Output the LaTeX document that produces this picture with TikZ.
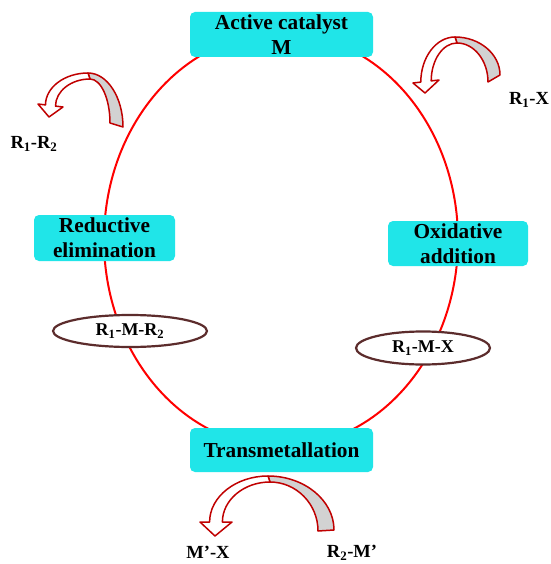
\documentclass[tikz,border=0pt]{standalone}
\usepackage{fontspec}
\setmainfont{Liberation Serif}
\usetikzlibrary{calc,shapes.geometric}
\definecolor{boxcyan}{RGB}{32,229,232}
\definecolor{cyclered}{RGB}{255,0,0}
\definecolor{arrred}{RGB}{192,0,0}
\definecolor{bandgray}{RGB}{210,210,210}
\definecolor{ellbrown}{RGB}{92,44,44}
\tikzset{
  stepbox/.style={fill=boxcyan, draw=none, rounded corners=5pt, align=center,
    font=\fontsize{21.3}{25}\selectfont\bfseries, inner sep=0pt},
  species/.style={ellipse, draw=ellbrown, line width=2.2pt, fill=white, inner sep=0pt,
    font=\fontsize{18}{20}\selectfont\bfseries},
  lbl/.style={font=\fontsize{18.5}{20}\selectfont\bfseries, inner sep=0pt},
  arrowline/.style={draw=arrred, line width=1.5pt, line join=round},
  cycleline/.style={draw=cyclered, line width=2pt}
}
\newcommand\bentarrow[7]{%
  \coordinate (#1bl) at #2;
  \coordinate (#1t) at #3;
  \coordinate (#1br) at #4;
  \coordinate (#1a) at #5;
  \coordinate (#1to) at #6;
  \coordinate (#1ti) at #7;
  \coordinate (#1ho) at ($(#1bl)!0.3!(#1br)$);
  \coordinate (#1hi) at ($(#1bl)!0.7!(#1br)$);
  \coordinate (#1a2) at ($(#1a)+(2,6)$);
  \draw[arrowline, fill=bandgray] (#1a)
    .. controls ($(#1a)!0.55!(#1to |- #1a)$) and ($(#1to)!0.55!(#1to |- #1a)$) .. (#1to)
    -- (#1ti)
    .. controls ($(#1ti)!0.55!(#1ti |- #1a2)$) and ($(#1a2)!0.55!(#1ti |- #1a2)$) .. (#1a2)
    -- cycle;
  \draw[arrowline, fill=white] (#1a)
    .. controls ($(#1a)!0.55!(#1ho |- #1a)$) and ($(#1ho)!0.55!(#1ho |- #1a)$) .. (#1ho)
    -- (#1bl) -- (#1t) -- (#1br) -- (#1hi)
    .. controls ($(#1hi)!0.55!(#1hi |- #1a2)$) and ($(#1a2)!0.55!(#1hi |- #1a2)$) .. (#1a2)
    -- cycle;
}
\begin{document}
\begin{tikzpicture}[x=1pt, y=-1pt]
\useasboundingbox (0,0) rectangle (550,564);
\fill[white] (0,0) rectangle (550,564);
% catalytic cycle
\draw[cycleline] (281,240) ellipse [x radius=177, y radius=207];
% step boxes
\node[stepbox, minimum width=183pt, minimum height=45pt] (act) at (281.5,34.5) {Active catalyst\\M};
\node[stepbox, minimum width=141pt, minimum height=46pt] (red) at (104.5,238) {Reductive\\elimination};
\node[stepbox, minimum width=140pt, minimum height=45pt] (oxi) at (458,243.5) {Oxidative\\addition};
\node[stepbox, minimum width=183pt, minimum height=44pt] (tra) at (281.5,450) {Transmetallation};
% intermediates
\node[species, minimum width=154pt, minimum height=32pt] (rmr) at (130,331) {R\textsubscript{1}-M-R\textsubscript{2}};
\node[species, minimum width=134pt, minimum height=33pt] (rmx) at (423,348) {R\textsubscript{1}-M-X};
% curved arrows
\bentarrow{tl}{(38,104)}{(49,117)}{(63,107)}{(88,73)}{(123,127)}{(110,123)}
\bentarrow{tr}{(413,83)}{(425,93)}{(439,80)}{(455,37)}{(500,75)}{(488,82)}
\bentarrow{bt}{(200,522)}{(215,536)}{(232,522)}{(268,476)}{(334,530)}{(318,531)}
% labels
\node[lbl] (prod) at (34,144) {R\textsubscript{1}-R\textsubscript{2}};
\node[lbl] (rx) at (529,100) {R\textsubscript{1}-X};
\node[lbl] (mx) at (208,552) {M’-X};
\node[lbl] (rm) at (352,553) {R\textsubscript{2}-M’};
\end{tikzpicture}
\end{document}
